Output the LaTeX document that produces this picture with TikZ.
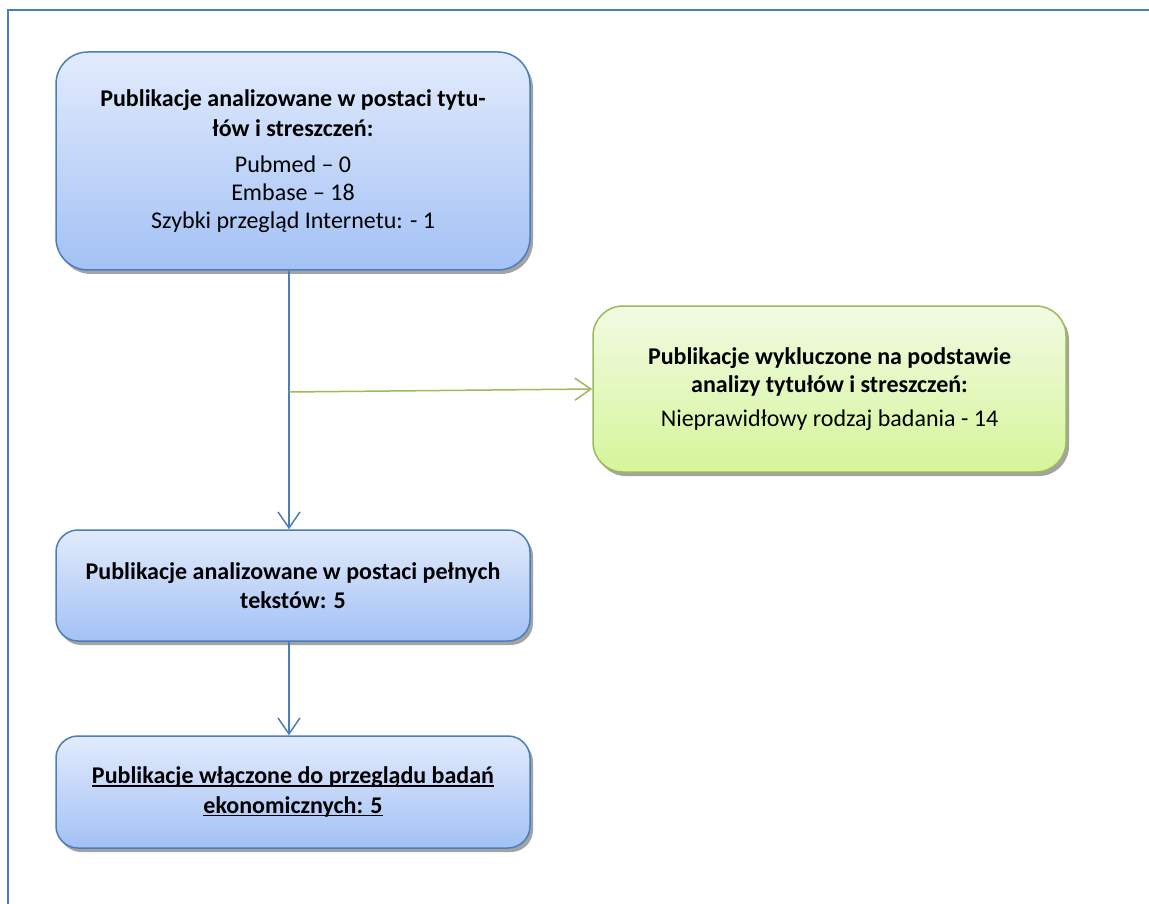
\documentclass[tikz,border=0pt]{standalone}
\usepackage{fontspec}
\setmainfont{Carlito}
\usetikzlibrary{arrows.meta,shadows}
\definecolor{boxblue}{HTML}{4A7EBB}
\definecolor{bluetop}{HTML}{E2EBFC}
\definecolor{bluebot}{HTML}{A3C1F5}
\definecolor{boxgreen}{HTML}{9BBB59}
\definecolor{greentop}{HTML}{F2FAE3}
\definecolor{greenbot}{HTML}{D5F599}
\newcommand\myuline[1]{\setbox0\hbox{#1}\rlap{\rule[-3pt]{\wd0}{1.3pt}}\box0}
\begin{document}
\begin{tikzpicture}[x=1pt,y=-1pt,
  txt/.style={font=\fontsize{24}{29.5}\selectfont, align=center, text=black},
  boxbase/.style={txt, line width=1.5pt, inner sep=0pt,
    drop shadow={shadow xshift=3pt, shadow yshift=-4pt, fill=black!45, opacity=0.8}},
  bluebox/.style={boxbase, draw=boxblue, top color=bluetop, bottom color=bluebot,
    minimum width=474pt},
  greenbox/.style={boxbase, draw=boxgreen, top color=greentop, bottom color=greenbot,
    minimum width=473pt},
  bline/.style={draw=boxblue, line width=1.5pt, -{Straight Barb[length=16pt,width=22pt,line width=1.5pt]}},
  gline/.style={draw=boxgreen, line width=1.5pt, -{Straight Barb[length=16pt,width=22pt,line width=1.5pt]}},
  frame/.style={draw=boxblue, line width=1.2pt}
]
\useasboundingbox (0,0) rectangle (1149,904);
\draw[frame] (8,10) rectangle (1160,915);

\node[bluebox, rounded corners=32pt, minimum height=218pt] (b1) at (293,161)
  {\textbf{Publikacje analizowane w postaci tytu-}\\
   \textbf{łów i streszczeń:}\\[6.5pt]
   Pubmed – 0\\[-1.5pt]
   Embase – 18\\[-1.5pt]
   Szybki przegląd Internetu: - 1};

\node[greenbox, rounded corners=30pt, minimum height=166pt] (b2) at (829.5,389)
  {\textbf{Publikacje wykluczone na podstawie}\\[-1.5pt]
   \textbf{analizy tytułów i streszczeń:}\\[4pt]
   Nieprawidłowy rodzaj badania - 14};

\node[bluebox, rounded corners=22pt, minimum height=111pt] (b3) at (293,585.5)
  {\textbf{Publikacje analizowane w postaci pełnych}\\
   \textbf{tekstów: 5}};

\node[bluebox, rounded corners=22pt, minimum height=112pt] (b4) at (293,792)
  {\myuline{\textbf{Publikacje włączone do przeglądu badań}}\\
   \myuline{\textbf{ekonomicznych: 5}}};

\coordinate (c) at (289,392);
\draw[bline] (b1.south -| c) -- (b3.north -| c);
\draw[bline] (b3.south -| c) -- (b4.north -| c);
\draw[gline] (c) -- (b2.west);
\end{tikzpicture}
\end{document}
